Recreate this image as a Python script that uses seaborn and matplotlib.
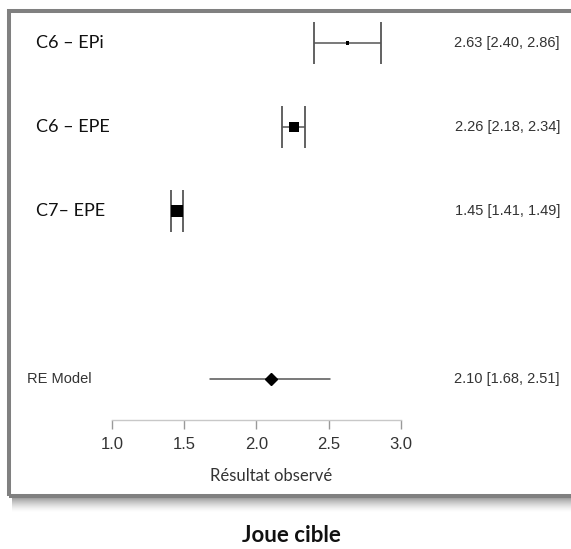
import numpy as np
import pandas as pd
import matplotlib
matplotlib.use("Agg")
import matplotlib.pyplot as plt
from matplotlib.patches import Rectangle
import seaborn as sns

# Study data
studies = ["C6 – EPi", "C6 – EPE", "C7– EPE"]
estimates = [2.63, 2.26, 1.45]
ci_low = [2.40, 2.18, 1.41]
ci_high = [2.86, 2.34, 1.49]

# Pooled random-effects model
re_label = "RE Model"
re_est = 2.10
re_low = 1.68
re_high = 2.51

x_ticks = [1.0, 1.5, 2.0, 2.5, 3.0]
x_label = "Résultat observé"
title = "Joue cible"

# marker areas (pt^2) for the study squares, weights in the original
square_sizes = [5, 52, 70]

W, H = 571, 549
sns.set_theme(style="white")
plt.rcParams["font.family"] = ["Liberation Sans", "DejaVu Sans"]

fig = plt.figure(figsize=(W / 100, H / 100), dpi=100)
ax = fig.add_axes([0, 0, 1, 1])
ax.set_facecolor("none")

# pixel <-> data mapping: x = 1.0 at 111.8 px, 144.5 px per unit
# rows 3..1 for studies, -1 for the pooled estimate, 84 px per row
px0, ppu = 111.8, 144.5
row_top_px, ppr = 43, 84
ax.set_xlim(1 - px0 / ppu, 1 + (W - px0) / ppu)
ax.set_ylim(3 - (H - row_top_px) / ppr, 3 + row_top_px / ppr)

rows = list(range(len(studies), 0, -1))
df = pd.DataFrame({"study": studies, "est": estimates, "lo": ci_low,
                   "hi": ci_high, "row": rows})

# confidence intervals with caps
for _, r in df.iterrows():
    ax.errorbar(r["est"], r["row"], xerr=[[r["est"] - r["lo"]], [r["hi"] - r["est"]]],
                fmt="none", ecolor="#555555", elinewidth=1.1,
                capsize=14.8, capthick=1.3)
sns.scatterplot(data=df, x="est", y="row", size="study",
                sizes=dict(zip(studies, square_sizes)), marker="s",
                color="black", edgecolor="black", linewidth=0, legend=False, ax=ax,
                zorder=5)

# pooled estimate
ax.plot([re_low, re_high], [-1, -1], color="#555555", lw=1.1)
ax.plot([re_est], [-1], marker="D", ms=6.2, color="black", zorder=5)

# labels
left_x = 1 + (36 - px0) / ppu
right_x = 1 + (560 - px0) / ppu
for _, r in df.iterrows():
    ax.text(left_x, r["row"], r["study"], ha="left", va="center",
            fontsize=13, family=["Lato", "DejaVu Sans"], color="#111111")
    ax.text(right_x, r["row"], f"{r['est']:.2f} [{r['lo']:.2f}, {r['hi']:.2f}]",
            ha="right", va="center", fontsize=10.5, color="#333333")
ax.text(1 + (27 - px0) / ppu, -1, re_label, ha="left", va="center",
        fontsize=10.5, color="#333333")
ax.text(right_x, -1, f"{re_est:.2f} [{re_low:.2f}, {re_high:.2f}]",
        ha="right", va="center", fontsize=10.5, color="#333333")

# x axis drawn through the axes' own spine
axis_row = 3 - (420 - row_top_px) / ppr
for s in ["top", "right", "left"]:
    ax.spines[s].set_visible(False)
ax.spines["bottom"].set_position(("data", axis_row))
ax.spines["bottom"].set_bounds(x_ticks[0], x_ticks[-1])
ax.spines["bottom"].set_color("#c8c8c8")
ax.spines["bottom"].set_linewidth(1.0)
ax.set_xticks(x_ticks)
ax.set_xticklabels([f"{t:.1f}" for t in x_ticks])
ax.tick_params(axis="x", direction="out", length=6.5, width=1.0, color="#999999",
               labelsize=12, labelcolor="#333333", pad=5.5, bottom=True)
ax.set_yticks([])
ax.set_xlabel("")
ax.set_ylabel("")
ax.text(1 + (271 - px0) / ppu, 3 - (476 - row_top_px) / ppr, x_label,
        ha="center", va="center", fontsize=12, family=["Lato", "DejaVu Sans"],
        color="#333333")

# frame with drop shadow
def fx(p):
    return p / W

def fy(p):
    return 1 - p / H

for i in range(15):
    a = 0.6 * (1 - i / 15) ** 1.5
    fig.add_artist(Rectangle((fx(12), fy(497 + i + 1)), fx(W + 10), 1 / H,
                             transform=fig.transFigure, facecolor="#555555",
                             edgecolor="none", alpha=a, zorder=0))
fig.add_artist(Rectangle((fx(9), fy(496)), fx(W + 10), (496 - 10.5) / H,
                         transform=fig.transFigure, facecolor="none",
                         edgecolor="#808080", lw=2.9, zorder=10))

fig.text(fx(291), fy(536), title, ha="center", va="center", fontsize=16,
         fontweight="bold", family=["Lato", "DejaVu Sans"], color="#111111")

fig.savefig("out.png", dpi=100)
